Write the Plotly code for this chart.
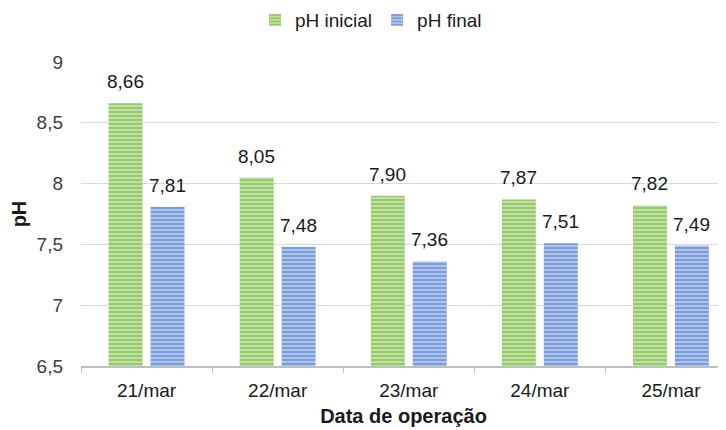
import plotly.graph_objects as go

# data
datas = ["21/mar", "22/mar", "23/mar", "24/mar", "25/mar"]
ph_inicial = [8.66, 8.05, 7.90, 7.87, 7.82]
ph_final = [7.81, 7.48, 7.36, 7.51, 7.49]


def fmt(v):
    return f"{v:.2f}".replace(".", ",")


font = "Liberation Sans, Arial, sans-serif"

fig = go.Figure()

fig.add_trace(go.Bar(
    x=datas, y=ph_inicial, name="pH inicial",
    marker=dict(color="#a9d67f", line=dict(width=0),
                pattern=dict(shape="-", fgcolor="#6aab3c", bgcolor="#c2e4a4",
                             size=4, solidity=0.55)),
))
fig.add_trace(go.Bar(
    x=datas, y=ph_final, name="pH final",
    marker=dict(color="#7fa0db", line=dict(width=0),
                pattern=dict(shape="-", fgcolor="#4472c4", bgcolor="#b4c8ee",
                             size=4, solidity=0.55)),
))

# value labels above each bar
for serie, shift in ((ph_inicial, -21), (ph_final, 21)):
    for cat, v in zip(datas, serie):
        fig.add_annotation(x=cat, y=v, text=fmt(v), showarrow=False,
                           xshift=shift, yshift=9, yanchor="bottom",
                           font=dict(size=19, color="#1a1a1a", family=font))

fig.update_layout(
    width=726, height=430,
    margin=dict(l=73, r=8, t=54, b=72, autoexpand=False),
    paper_bgcolor="white", plot_bgcolor="white",
    separators=",.",
    font=dict(family=font, size=19, color="#404040"),
    barmode="group", bargap=0.36, bargroupgap=0.19,
    legend=dict(orientation="h", xref="container", x=0.5, xanchor="center",
                y=1.138, yanchor="middle",
                font=dict(size=19, color="#1a1a1a"),
                itemwidth=30, tracegroupgap=0, bgcolor="rgba(0,0,0,0)"),
    showlegend=True,
)

fig.update_yaxes(
    range=[6.5, 9], dtick=0.5, tick0=6.5,
    showgrid=True, gridcolor="#d9d9d9", gridwidth=1,
    zeroline=False, showline=False, ticks="", ticklabelstandoff=17,
    tickfont=dict(size=19, color="#404040"),
    title=dict(text="<b>pH</b>", font=dict(size=20, color="#1a1a1a"), standoff=4),
)
fig.update_xaxes(
    range=[-0.5, 4.42],
    showline=True, linecolor="#bfbfbf", linewidth=2,
    ticks="outside", tickson="boundaries", ticklen=5, tickcolor="#bfbfbf",
    ticklabelstandoff=6,
    tickfont=dict(size=19, color="#1a1a1a"),
    title=dict(text="<b>Data de operação</b>", font=dict(size=20, color="#1a1a1a"), standoff=9),
)

fig.write_html("out.html")
